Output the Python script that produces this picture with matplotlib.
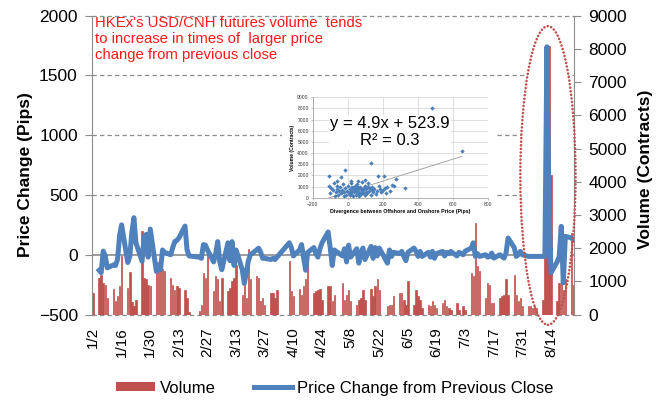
import numpy as np
import pandas as pd
import matplotlib
matplotlib.use("Agg")
import matplotlib.pyplot as plt
import matplotlib.dates as mdates
import matplotlib.transforms as mtransforms
from matplotlib.patches import Ellipse, Rectangle, Patch
from matplotlib.lines import Line2D

plt.rcParams['font.family'] = ['Liberation Sans', 'DejaVu Sans']

RED, BLUE, GRID = "#C0504D", "#4F81BD", "#8C8C8C"

# HK trading days, Jan 2 - Aug 25 2015
holidays = ["2015-02-19", "2015-02-20", "2015-04-03", "2015-04-06", "2015-04-07",
            "2015-05-01", "2015-05-25", "2015-07-01"]
days = pd.bdate_range("2015-01-02", "2015-08-25")
days = days[~days.isin(pd.to_datetime(holidays))]

# daily volume (contracts)
vol_jan = [660, 1090, 1180, 940, 900, 510, 780, 400, 550, 860, 1760, 810, 1270, 370, 250,
           450, 2520, 1110, 1060, 900, 860]
vol_feb = [1280, 1360, 1410, 1360, 1320, 1090, 900, 750, 860, 810, 750, 510, 80,
           100, 300, 1240, 1090, 1910]
vol_mar = [700, 1160, 1060, 400, 1110, 700, 810, 1000, 1100, 1480, 600, 900, 500, 1960, 1060,
           1160, 1110, 400, 500, 300, 660, 660]
vol_apr = [500, 750, 1610, 700, 550, 755, 600, 850, 1060, 1660, 650, 700, 750, 780, 450,
           850, 850, 400, 600]
vol_may = [960, 450, 600, 750, 400, 300, 450, 500, 750, 450, 780, 550, 850, 1060, 750,
           250, 300, 300, 550]
vol_jun = [650, 650, 450, 300, 1000, 300, 750, 550, 450, 200, 300, 250, 400, 300, 200,
           350, 450, 250, 200, 150, 350, 150]
vol_jul = [250, 150, 1260, 1160, 2770, 1460, 1310, 500, 960, 900, 350, 350, 500, 550, 600,
           1060, 600, 1200, 600, 400, 500, 250]
vol_aug = [250, 250, 200, 250, 200, 450, 1760, 3000, 8075, 4200, 400, 960, 1270, 750, 1060,
           2470, 900]

# price change from previous close (pips)
chg_jan = [np.nan, -130, -150, 30, -10, -110, -85, -90, -40, 160, 250, -65, -15, 185, 310,
           100, -55, 150, 170, -20, 215]
chg_feb = [-140, -85, -125, 40, 20, 0, 60, 110, 120, 140, 240, 40, -10, -20, -30, 85, 80, 40]
chg_mar = [-60, 10, 110, -60, -125, 100, -50, 110, -90, 40, -125, -240, -150, -50, 0,
           40, 55, 20, -30, -30, -40, -30]
chg_apr = [-40, -20, 100, 60, -10, 40, 85, -20, -130, 20, 60, 10, -20, 50, 100, 190, 60, -90, 40]
chg_may = [-10, 50, -60, 80, -20, 50, -70, 10, 56, -40, 70, -30, 60, -10, 56, -70, 40, -14, 20]
chg_jun = [10, 28, -14, -50, 20, 56, 28, -14, 28, -14, 20, -20, 28, -30, 10, 28, -10, 20, 10,
           28, -10, 20]
chg_jul = [0, 30, 56, 100, -14, 10, -14, 0, -20, -14, 14, -28, 0, -14, -28, 14, 140, 60, -14,
           0, 28, 0]
chg_aug = [-14, -14, -14, -14, -14, -14, -14, 1740, 405, -150, -60, -14, 237, -235, 154, 140, 126]

volume = vol_jan + vol_feb + vol_mar + vol_apr + vol_may + vol_jun + vol_jul + vol_aug
change = chg_jan + chg_feb + chg_mar + chg_apr + chg_may + chg_jun + chg_jul + chg_aug
assert len(volume) == len(change) == len(days)

tick_days = pd.date_range("2015-01-02", "2015-08-14", freq="14D")
tick_labels = [f"{d.month}/{d.day}" for d in tick_days]

# inset scatter: offshore/onshore divergence (pips) vs volume
div_pips = [-110, -95, -85, -80, -70, -65, -60, -55, -50, -45, -40, -35, -30, -25, -20, -15,
            -10, -5, 0, 5, 10, 12, 15, 18, 20, 25, 28, 30, 35, 38, 40, 45, 48, 50, 55, 58,
            60, 62, 65, 70, 72, 75, 78, 80, 85, 88, 90, 95, 100, 102, 105, 110, 112, 115,
            120, 125, 130, 135, 140, 145, 150, 160, 165, 175, 185, 190, 200, 210, 215, 225,
            240, 250, 262, 275, 325, 170, 205, 130, -15, -105, -40, 480, 650, -100, -75,
            20, 60, 100, -60]
div_vol = [1100, 900, 700, 1300, 500, 800, 1500, 300, 600, 1000, 400, 700, 1200, 200, 500,
           900, 300, 650, 1100, 450, 800, 250, 1300, 550, 350, 950, 700, 150, 500, 1050,
           850, 300, 600, 1200, 400, 750, 950, 200, 550, 1000, 350, 800, 600, 1400, 450,
           700, 900, 250, 1100, 550, 750, 400, 950, 1300, 600, 850, 300, 700, 1000, 500,
           800, 350, 650, 1050, 800, 500, 700, 900, 400, 1000, 600, 1150, 1100, 1700, 900,
           1950, 1950, 3150, 2500, 1950, 1850, 8000, 4150, 400, 200, 1500, 1550, 1600, 1050]
fit_slope, fit_icpt, fit_r2 = 4.9, 523.9, 0.3

fig = plt.figure(figsize=(6.67, 4.03), dpi=100)
ax = fig.add_axes([0.1375, 0.2196, 0.7235, 0.7414])
ax2 = ax.twinx()
ax.set_zorder(ax2.get_zorder() + 1)
ax.patch.set_visible(False)

xlim = (pd.Timestamp("2015-01-01 09:00"), pd.Timestamp("2015-08-25 09:00"))
ax.set_xlim(*xlim)
ax.set_ylim(-500, 2000)
ax2.set_ylim(0, 9000)
ax.set_yticks(range(-500, 2001, 500))
ax2.set_yticks(range(0, 9001, 1000))

# gridlines and the white ellipse fill sit under the bars (drawn in ax2, scaled on ax)
blend = mtransforms.blended_transform_factory(ax2.transAxes, ax.transData)
for v in [-500, 500, 1000, 1500, 2000]:
    ax2.add_line(Line2D([0, 1], [v, v], transform=blend, color=GRID, lw=0.9,
                        ls=(0, (3.5, 2.5)), zorder=0.5, clip_on=False))
ax2.add_line(Line2D([0, 1], [0, 0], transform=blend, color=GRID, lw=1.2, zorder=0.6))

ell_c = (mdates.date2num(pd.Timestamp("2015-08-12 12:00")), 663)
ax2.add_patch(Ellipse(ell_c, 27, 2500, transform=ax.transData, fc="white", ec="none",
                      zorder=1, clip_on=False))

ax2.bar(days, volume, width=0.7, color=RED, edgecolor=RED, linewidth=0.5, zorder=2)
ax.plot(days, change, color=BLUE, lw=3.6, solid_joinstyle="round", zorder=3)

ax.add_patch(Ellipse(ell_c, 27, 2500, fc="none", ec=RED, lw=1.9, ls=(0, (0.01, 1.35)),
                     capstyle="round", zorder=5, clip_on=False))

for a in (ax, ax2):
    for s in ("top", "bottom"):
        a.spines[s].set_visible(False)
    a.spines["left"].set_color(GRID)
    a.spines["right"].set_color(GRID)
ax.spines["right"].set_visible(False)
ax2.spines["left"].set_visible(False)

ax.tick_params(axis="y", length=5, color=GRID, labelsize=12.5, pad=5)
ax2.tick_params(axis="y", length=5, color=GRID, labelsize=12.5, pad=5)
ax.set_xticks(tick_days)
ax.set_xticklabels(tick_labels, rotation=90, fontsize=11)
ax.tick_params(axis="x", length=0, pad=9)

ax.set_ylabel("Price Change (Pips)", fontsize=12.5, fontweight="bold")
ax.yaxis.set_label_coords(-0.121, 0.47)
ax2.set_ylabel("Volume (Contracts)", fontsize=12.5, fontweight="bold")
ax2.yaxis.set_label_coords(1.132, 0.487)

ax.text(0.007, 1.0, "HKEx's USD/CNH futures volume  tends\nto increase in times of  larger price\n"
        "change from previous close", transform=ax.transAxes, va="top", ha="left",
        color="#FF1A1A", fontsize=10.7, linespacing=1.2, zorder=6)

# inset: white card behind the scatter
fig.add_artist(Rectangle((282 / 667, 1 - 218 / 403), 215 / 667, 128 / 403,
                         transform=fig.transFigure, fc="white", ec="none", zorder=4))
ins = fig.add_axes([0.469, 0.509, 0.263, 0.25], zorder=6)
ins.set_xlim(-200, 800)
ins.set_ylim(0, 9000)
ins.set_xticks(range(-200, 801, 200))
ins.set_yticks(range(0, 9001, 1000))
ins.grid(True, color="#D9D9D9", lw=0.6)
ins.set_axisbelow(True)
for s in ("top", "right"):
    ins.spines[s].set_visible(False)
for s in ("left", "bottom"):
    ins.spines[s].set_color("#A6A6A6")
    ins.spines[s].set_linewidth(0.6)
ins.tick_params(labelsize=3.6, length=1.5, width=0.5, color="#A6A6A6", pad=1.5,
                labelcolor="#333333")
ins.scatter(div_pips, div_vol, marker="D", s=5, color="#4A7EBB", lw=0, zorder=3)
fx = np.array([min(div_pips), max(div_pips)])
ins.plot(fx, fit_slope * fx + fit_icpt, color="#A6A6A6", lw=0.7, zorder=2)
ins.set_xlabel("Divergence between Offshore and Onshore Price (Pips)", fontsize=3.8,
               fontweight="bold", labelpad=1.5)
ins.set_ylabel("Volume (Contracts)", fontsize=3.6, fontweight="bold", labelpad=1.5)
ins.text(0.44, 0.65, f"y = {fit_slope}x + {fit_icpt}\nR² = {fit_r2}", transform=ins.transAxes,
         ha="center", va="center", multialignment="center", fontsize=12, linespacing=1.15,
         bbox=dict(fc="white", ec="none", pad=1), zorder=5)

handles = [Patch(facecolor=RED), Line2D([], [], color=BLUE, lw=3.6)]
fig.legend(handles, ["Volume", "Price Change from Previous Close"], loc="center",
           bbox_to_anchor=(0.502, 0.037), ncol=2, frameon=False, fontsize=12,
           handlelength=2.3, handleheight=0.5, handletextpad=0.3, columnspacing=2.3)

fig.savefig("out.png", dpi=100)
